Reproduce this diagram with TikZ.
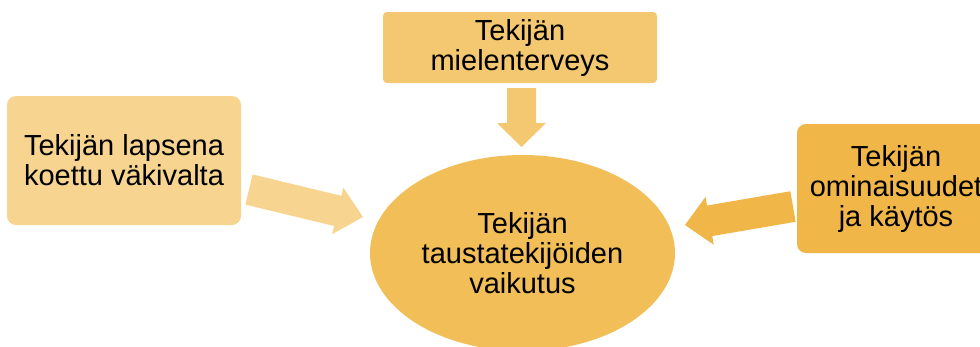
\documentclass[tikz,border=0pt]{standalone}
\usepackage{fontspec}
\setmainfont{Liberation Sans}
\usetikzlibrary{calc,shapes.geometric}
\definecolor{cLeft}{HTML}{F7D490}
\definecolor{cTop}{HTML}{F4C870}
\definecolor{cRight}{HTML}{F0B748}
\definecolor{cMid}{HTML}{F1BE58}
\tikzset{
  box/.style={rectangle, inner sep=0pt, align=center, font=\fontsize{29}{30}\selectfont},
  oval/.style={ellipse, inner sep=0pt, align=center, font=\fontsize{29}{30}\selectfont},
}
% block arrow: tail T, tip P, shaft half width, head half width, head length, colour
\newcommand{\myblockarrow}[6]{%
  \fill[#6] ($(#1)!#3!90:(#2)$) -- ($(#1)!#3!-90:(#2)$)
    -- ($($(#2)!#5!(#1)$)!#3!-90:(#2)$)
    -- ($($(#2)!#5!(#1)$)!#4!-90:(#2)$)
    -- (#2)
    -- ($($(#2)!#5!(#1)$)!#4!90:(#2)$)
    -- ($($(#2)!#5!(#1)$)!#3!90:(#2)$) -- cycle;}
\begin{document}
\begin{tikzpicture}[x=1pt,y=-1pt]
\clip (0,0) rectangle (980,346);
\fill[white] (0,0) rectangle (980,346);
% central ellipse
\node[oval, fill=cMid, minimum width=305pt, minimum height=196pt] (mid) at (522.5,253) {Tekijän\\taustatekijöiden\\vaikutus};
% boxes
\node[box, fill=cTop, rounded corners=4pt, minimum width=274pt, minimum height=71pt] (top) at (520,47.5) {Tekijän\\mielenterveys};
\node[box, fill=cLeft, rounded corners=9pt, minimum width=234pt, minimum height=129pt] (left) at (124,160.5) {Tekijän lapsena\\koettu väkivalta};
\node[box, fill=cRight, rounded corners=9pt, minimum width=198pt, minimum height=129pt] (right) at (896,188.5) {Tekijän\\ominaisuudet\\ja käytös};
% arrow end points
\coordinate (dT) at (521.5,88);
\coordinate (dP) at (521.5,147);
\coordinate (lT) at (249,189.5);
\coordinate (lP) at (363,217);
\coordinate (rT) at (793,206.5);
\coordinate (rP) at (685,225);
\myblockarrow{dT}{dP}{14.5pt}{24.5pt}{24pt}{cTop}
\myblockarrow{lT}{lP}{15.5pt}{24pt}{26pt}{cLeft}
\myblockarrow{rT}{rP}{15.5pt}{24.3pt}{25pt}{cRight}
\end{tikzpicture}
\end{document}
